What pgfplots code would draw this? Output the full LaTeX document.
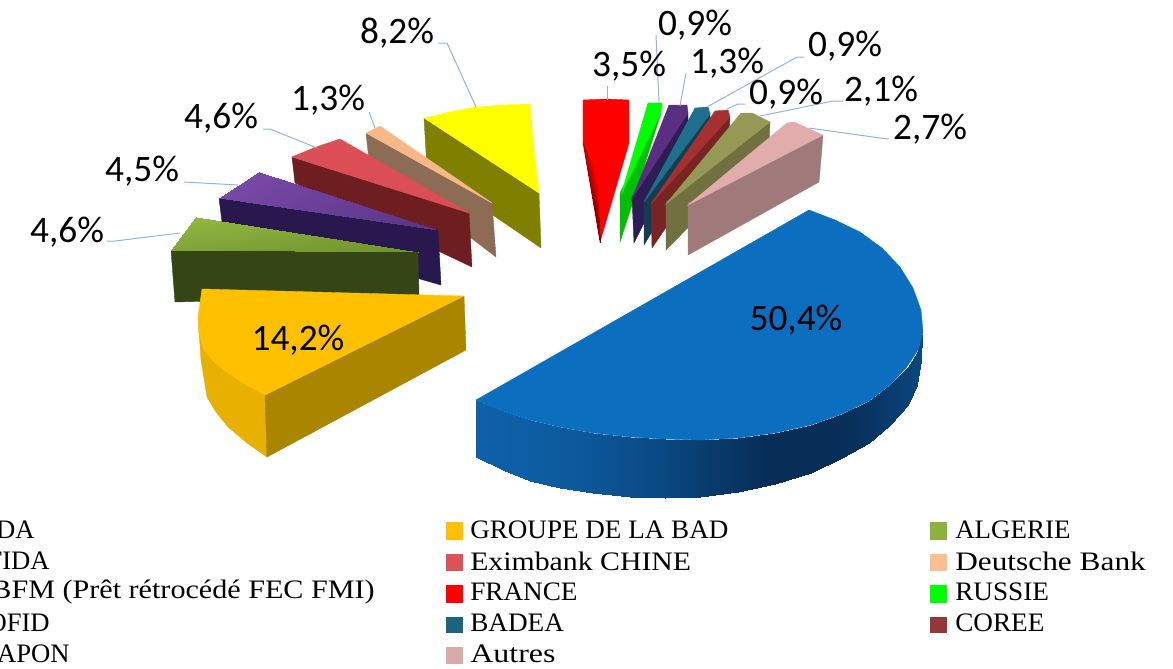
\documentclass[border=0pt]{standalone}
\usepackage{pgfplots}
\pgfplotsset{compat=1.18}
\usepackage{graphicx}
\usepackage{fontspec}
\setmainfont{Liberation Serif}
\newfontfamily\lab{Carlito}
\definecolor{blueTop}{HTML}{0B6EBE}
\definecolor{goldTop}{HTML}{FFC000}
\definecolor{goldSide}{HTML}{A98500}
\definecolor{goldRim}{HTML}{E8B000}
\definecolor{leader}{HTML}{8DB4E2}
\definecolor{pureyellow}{RGB}{255,255,0}
\definecolor{c1}{RGB}{128,128,0}
\definecolor{c2}{RGB}{140,108,85}
\definecolor{c3}{RGB}{246,184,136}
\definecolor{c4}{RGB}{110,30,32}
\definecolor{c5}{RGB}{220,78,85}
\definecolor{c6}{RGB}{40,24,78}
\definecolor{c7}{RGB}{52,70,22}
\definecolor{c8}{RGB}{255,0,0}
\definecolor{c9}{RGB}{0,190,0}
\definecolor{c10}{RGB}{0,255,0}
\definecolor{c11}{RGB}{46,28,84}
\definecolor{c12}{RGB}{90,46,128}
\definecolor{c13}{RGB}{18,62,84}
\definecolor{c14}{RGB}{30,112,140}
\definecolor{c15}{RGB}{120,36,36}
\definecolor{c16}{RGB}{165,48,48}
\definecolor{c17}{RGB}{112,112,64}
\definecolor{c18}{RGB}{148,154,85}
\definecolor{c19}{RGB}{160,122,122}
\definecolor{c20}{RGB}{226,172,172}
\definecolor{s1}{RGB}{221,82,86}
\definecolor{s2}{RGB}{28,100,125}
\definecolor{s3}{RGB}{217,170,170}
\definecolor{s4}{RGB}{140,178,60}
\definecolor{s5}{RGB}{250,192,144}
\definecolor{s6}{RGB}{149,55,53}
\pgfplotsset{
  colormap={rimblue}{rgb255=(13,100,173) rgb255=(7,44,85)},
  colormap={greentop}{rgb255=(154,192,72) rgb255=(112,146,44)},
  colormap={purpletop}{rgb255=(120,72,168) rgb255=(88,52,130)},
  colormap={redside}{rgb255=(255,0,0) rgb255=(120,0,0)},
}
\tikzset{
  face/.style={fill=#1,draw=#1,line width=0.3pt,mark=none},
  lead/.style={draw=leader,line width=0.75pt,mark=none},
  pct/.style={font=\lab\fontsize{28}{32}\selectfont,inner sep=0pt,text=black},
  leg/.style={font=\fontsize{20}{24}\selectfont,inner sep=0pt,text=black,anchor=west},
  legr/.style={font=\fontsize{20}{24}\selectfont,inner sep=0pt,text=black,anchor=east},
}
\newcommand{\sx}[2]{\scalebox{#1}[1]{#2}}
\begin{document}
\begin{tikzpicture}
\clip[use as bounding box] (0,0) rectangle (879.75pt,501pt);
\begin{axis}[at={(0,0)},anchor=south west,scale only axis,width=879.75pt,height=501pt,
  xmin=0,xmax=1173,ymin=0,ymax=668,y dir=reverse,hide axis,
  point meta min=0,point meta max=1,clip=false]

% --- yellow 8,2
\addplot[face=c1] coordinates {(424,118)(427,170)(541,248)(539,193)} --cycle;
\addplot[face=pureyellow] coordinates {(424,118)(450,112)(476,107)(503,105)(530,104)(534,150)(539,193)} --cycle;
% --- peach 1,3
\addplot[face=c2] coordinates {(366,133)(369,160)(496,257)(492,203)} --cycle;
\addplot[face=c3] coordinates {(366,133)(380,126)(492,203)} --cycle;
% --- red 4,6
\addplot[face=c4] coordinates {(292,157)(295,183)(472,267)(469,213)} --cycle;
\addplot[face=c5] coordinates {(292,157)(316,147)(340,139)(469,213)} --cycle;
% --- purple 4,5
\addplot[face=c6] coordinates {(219,198)(222,222)(441,285)(438,230)} --cycle;
\addplot[patch,shader=interp,point meta=explicit,colormap name=purpletop] coordinates {(219,198) [0] (259,172) [0] (438,230) [1]};
% --- green 4,6
\addplot[face=c7] coordinates {(171,250)(175,302)(419,296)(418,252)} --cycle;
\addplot[patch,shader=interp,point meta=explicit,colormap name=greentop] coordinates {(171,250) [0.6] (196,217) [0.2] (418,252) [1]};
% --- gold 14,2
\addplot[face=goldRim] coordinates {(198,317)(199,333)(204,350)(214,362)(228,373)(246,385)(265,395)(267,457)(247,443)(228,427)(216,412)(207,397)(201,360)} --cycle;
\addplot[face=goldSide] coordinates {(265,395)(464,296)(466,350)(267,457)} --cycle;
\addplot[face=goldTop] coordinates {(202,289)(464,296)(265,395)(246,385)(228,373)(214,362)(204,350)(199,333)(198,317)} --cycle;

% --- France
\addplot[face=c8] coordinates {(583,100)(606,99)(629,100)(629,143)(600,242)(583,143)} --cycle;
\addplot[patch,shader=interp,point meta=explicit,colormap name=redside] coordinates {(583,143) [0.5] (600,242) [1] (596,175) [0]};
% --- Russia
\addplot[face=c9] coordinates {(661,113)(620,193)(620,242)(632,205)} --cycle;
\addplot[face=c10] coordinates {(648,103)(662,103)(661,113)(621,195)} --cycle;
% --- violet 1,3
\addplot[face=c11] coordinates {(688,113)(632,197)(634,243)(688,135)} --cycle;
\addplot[face=c12] coordinates {(669,105)(687,105)(688,113)(632,199)} --cycle;
% --- teal
\addplot[face=c13] coordinates {(710,114)(644,200)(644,245)(710,135)} --cycle;
\addplot[face=c14] coordinates {(695,108)(708,107)(710,114)(644,202)} --cycle;
% --- crimson
\addplot[face=c15] coordinates {(730,117)(651,202)(652,248)(729,135)} --cycle;
\addplot[face=c16] coordinates {(715,111)(728,110)(730,117)(651,204)} --cycle;
% --- olive
\addplot[face=c17] coordinates {(770,122)(666,202)(666,250)(769,145)} --cycle;
\addplot[face=c18] coordinates {(741,113)(752,113)(770,122)(666,204)} --cycle;
% --- pink
\addplot[face=c19] coordinates {(823,135)(688,203)(688,255)(819,182)} --cycle;
\addplot[face=c20] coordinates {(787,123)(794,122)(823,135)(688,205)} --cycle;

% --- blue 50,4 : rim then top
\addplot[patch,patch type=rectangle,shader=interp,point meta=explicit,colormap name=rimblue] coordinates {
(476,400) [0.05] (476,457) [0.05] (503,470) [0.08] (503,411) [0.08]
(503,411) [0.08] (503,470) [0.08] (530,481) [0.1] (530,420) [0.1]
(530,420) [0.1] (530,481) [0.1] (560,488) [0.17] (560,427) [0.17]
(560,427) [0.17] (560,488) [0.17] (593,493) [0.25] (593,433) [0.25]
(593,433) [0.25] (593,493) [0.25] (630,497) [0.38] (630,437) [0.38]
(630,437) [0.38] (630,497) [0.38] (665,498) [0.5] (665,439) [0.5]
(665,439) [0.5] (665,498) [0.5] (700,497) [0.68] (700,440) [0.68]
(700,440) [0.68] (700,497) [0.68] (738,492) [0.85] (738,438) [0.85]
(738,438) [0.85] (738,492) [0.85] (775,484) [1] (775,433) [1]
(775,433) [1] (775,484) [1] (811,473) [1] (811,425) [1]
(811,425) [1] (811,473) [1] (842,458) [0.95] (842,414) [0.95]
(842,414) [0.95] (842,458) [0.95] (869,443) [0.85] (869,401) [0.85]
(869,401) [0.85] (869,443) [0.85] (890,425) [0.72] (890,385) [0.72]
(890,385) [0.72] (890,425) [0.72] (908,405) [0.6] (908,367) [0.6]
(908,367) [0.6] (908,405) [0.6] (917,385) [0.55] (917,353) [0.55]
(917,353) [0.55] (917,385) [0.55] (921,360) [0.5] (922,335) [0.5]
};
\addplot[face=blueTop] coordinates {(476,400)(809,210)(835,220)(860,232)(882,248)(900,267)(913,288)(921,310)(923,332)(918,350)(906,368)(890,385)(869,401)(842,414)(811,425)(775,433)(738,438)(700,440)(665,439)(630,437)(593,433)(560,427)(530,420)(503,411)} --cycle;

% --- leader lines
\addplot[lead] coordinates {(438,43)(447,43)(476,107)};
\addplot[lead] coordinates {(369,112)(375,128)};
\addplot[lead] coordinates {(263,129)(270,129)(317,148)};
\addplot[lead] coordinates {(184,182)(238,185)};
\addplot[lead] coordinates {(107,241)(115,241)(180,233)};
\addplot[lead] coordinates {(607,86)(607,100)};
\addplot[lead] coordinates {(656,35)(659,102)};
\addplot[lead] coordinates {(686,73)(680,106)};
\addplot[lead] coordinates {(804,57)(797,57)(707,107)};
\addplot[lead] coordinates {(745,104)(738,104)(727,109)};
\addplot[lead] coordinates {(843,101)(833,101)(760,116)};
\addplot[lead] coordinates {(889,139)(880,138)(809,128)};

% --- labels
\node[pct] at (axis cs:397,33.5) {8,2\%};
\node[pct] at (axis cs:328,100.5) {1,3\%};
\node[pct] at (axis cs:221,118.5) {4,6\%};
\node[pct] at (axis cs:142,171.5) {4,5\%};
\node[pct] at (axis cs:67,232.5) {4,6\%};
\node[pct] at (axis cs:629,66.5) {3,5\%};
\node[pct] at (axis cs:695,25.5) {0,9\%};
\node[pct] at (axis cs:727,63.5) {1,3\%};
\node[pct] at (axis cs:845,46.5) {0,9\%};
\node[pct] at (axis cs:786,94.5) {0,9\%};
\node[pct] at (axis cs:881,91.5) {2,1\%};
\node[pct] at (axis cs:930,129.5) {2,7\%};
\node[pct] at (axis cs:298,340.5) {14,2\%};
\node[pct] at (axis cs:796,320.5) {50,4\%};

% --- legend swatches
\addplot[face=goldTop] coordinates {(446,522)(462,522)(462,539)(446,539)} --cycle;
\addplot[face=s1] coordinates {(446,554)(462,554)(462,570)(446,570)} --cycle;
\addplot[face=c8] coordinates {(446,585)(462,585)(462,602)(446,602)} --cycle;
\addplot[face=s2] coordinates {(446,617)(462,617)(462,632)(446,632)} --cycle;
\addplot[face=s3] coordinates {(446,647)(462,647)(462,663)(446,663)} --cycle;
\addplot[face=s4] coordinates {(930,522)(946,522)(946,539)(930,539)} --cycle;
\addplot[face=s5] coordinates {(930,554)(946,554)(946,570)(930,570)} --cycle;
\addplot[face=c10] coordinates {(930,585)(946,585)(946,602)(930,602)} --cycle;
\addplot[face=s6] coordinates {(930,617)(946,617)(946,632)(930,632)} --cycle;

% --- legend text
\node[legr] at (axis cs:35,530) {IDA};
\node[legr] at (axis cs:50,561) {FIDA};
\node[legr] at (axis cs:375,592) {\sx{1.13}{BFM (Prêt rétrocédé FEC FMI)}};
\node[legr] at (axis cs:50,623) {OFID};
\node[legr] at (axis cs:70,654) {JAPON};
\node[leg] at (axis cs:470,530) {\sx{1.016}{GROUPE DE LA BAD}};
\node[leg] at (axis cs:470,561) {\sx{1.117}{Eximbank CHINE}};
\node[leg] at (axis cs:470,592) {\sx{1.02}{FRANCE}};
\node[leg] at (axis cs:470,623) {\sx{1.02}{BADEA}};
\node[leg] at (axis cs:470,654) {\sx{1.2}{Autres}};
\node[leg] at (axis cs:955,530) {\sx{1.01}{ALGERIE}};
\node[leg] at (axis cs:955,561) {\sx{1.175}{Deutsche Bank}};
\node[leg] at (axis cs:955,592) {\sx{1.02}{RUSSIE}};
\node[leg] at (axis cs:955,623) {\sx{1.02}{COREE}};
\end{axis}
\end{tikzpicture}
\end{document}
